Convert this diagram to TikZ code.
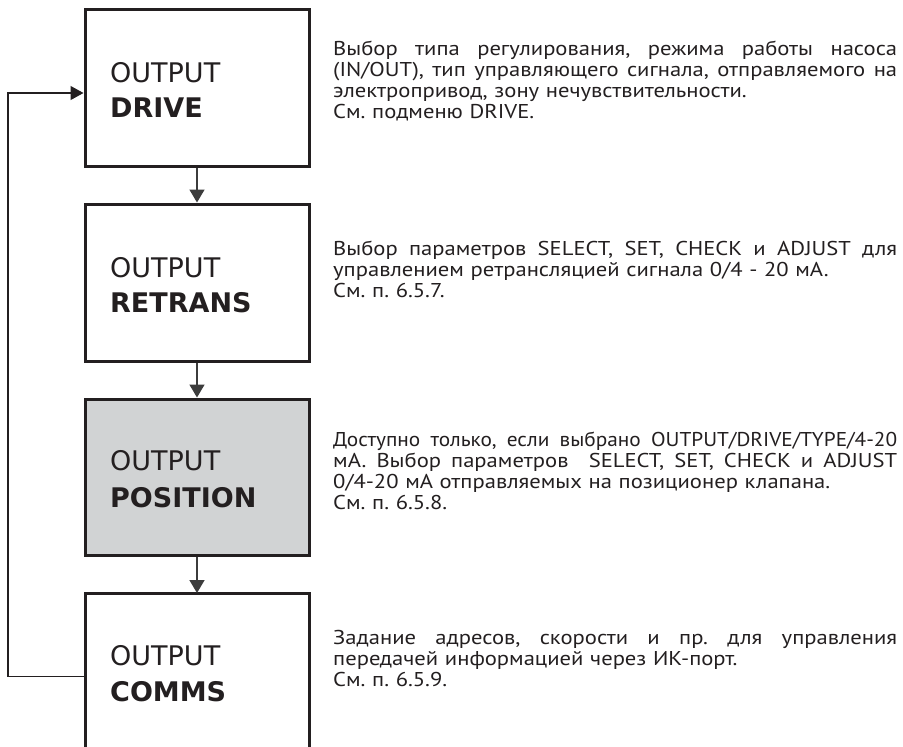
\documentclass[tikz,border=0pt]{standalone}
\usepackage{fontspec}
\setmainfont{PT Sans}
\newfontfamily\descfont[FakeStretch=1.13]{PT Sans}
\newfontfamily\descfonttight[FakeStretch=1.065]{PT Sans}
\newfontfamily\boxfont{DejaVu Sans}
\usetikzlibrary{arrows.meta}
\definecolor{ink}{HTML}{231F20}
\definecolor{conngray}{HTML}{3C3C3C}
\definecolor{boxgray}{HTML}{D1D3D4}
\newcommand\jline[1]{\leavevmode\hbox to 564pt{\spaceskip=\fontdimen2\font plus 1fil minus \fontdimen4\font\relax #1}}
\tikzset{
  menubox/.style={draw=ink, line width=3pt, minimum width=224pt, inner sep=0pt},
  conn/.style={draw=conngray, line width=1.6pt, -{Triangle[length=13pt,width=15pt]}},
  fbline/.style={draw=ink, line width=1.2pt, -{Triangle[length=13pt,width=14pt]}},
  lbl/.style={anchor=base west, inner sep=0pt, text=ink, font=\boxfont\fontsize{27}{30}\selectfont},
  desc/.style={anchor=base west, inner sep=0pt, text=ink, text width=564pt, align=left,
    font=\descfont\fontsize{20}{21.3}\selectfont\frenchspacing}
}
\begin{document}
\begin{tikzpicture}[x=1pt,y=-1pt]
\useasboundingbox[fill=white] (0,0) rectangle (903,747);
% boxes
\node[menubox, minimum height=157pt] (drive) at (197,87.5) {};
\node[menubox, minimum height=157pt] (retrans) at (197,282.5) {};
\node[menubox, fill=boxgray, minimum height=156pt] (position) at (197,477) {};
\node[minimum width=224pt, minimum height=167pt, inner sep=0pt, outer sep=0pt] (comms) at (197,676.5) {};
\draw[ink, line width=3pt] (comms.south west) -- (comms.north west) -- (comms.north east) -- (comms.south east);
% labels
\node[lbl] (l1a) at (110,82) {OUTPUT};
\node[lbl] (l1b) at (110,117) {\bfseries DRIVE};
\node[lbl] (l2a) at (110,277) {OUTPUT};
\node[lbl] (l2b) at (110,312) {\bfseries RETRANS};
\node[lbl] (l3a) at (110,470) {OUTPUT};
\node[lbl] (l3b) at (110,507) {\bfseries POSITION};
\node[lbl] (l4a) at (110,665) {OUTPUT};
\node[lbl] (l4b) at (110,701) {\bfseries COMMS};
% connectors
\draw[conn] (drive.south) -- (retrans.north);
\draw[conn] (retrans.south) -- (position.north);
\draw[conn] (position.south) -- (comms.north);
\draw[fbline] (comms.west) -- ++(-77,0) |- ([yshift=-5.5pt]drive.west);
% descriptions
\node[desc] (d1) at (333,55) {%
\jline{Выбор типа регулирования, режима работы насоса}\\
\jline{(IN/OUT), тип управляющего сигнала, отправляемого на}\\
электропривод, зону нечувствительности.\\
См. подменю DRIVE.};
\node[desc] (d2) at (333,255) {%
\jline{Выбор параметров SELECT, SET, CHECK и ADJUST для}\\
управлением ретрансляцией сигнала 0/4 - 20 мА.\\
См. п. 6.5.7.};
\node[desc] (d3) at (333,446) {%
{\descfonttight\fontsize{20}{21.3}\selectfont\jline{Доступно только, если выбрано OUTPUT/DRIVE/TYPE/4-20}}\\
\jline{мА. Выбор параметров \ SELECT, SET, CHECK и ADJUST}\\
0/4-20 мА отправляемых на позиционер клапана.\\
См. п. 6.5.8.};
\node[desc] (d4) at (333,644) {%
\jline{Задание адресов, скорости и пр. для управления}\\
передачей информацией через ИК-порт.\\
См. п. 6.5.9.};
\end{tikzpicture}
\end{document}
